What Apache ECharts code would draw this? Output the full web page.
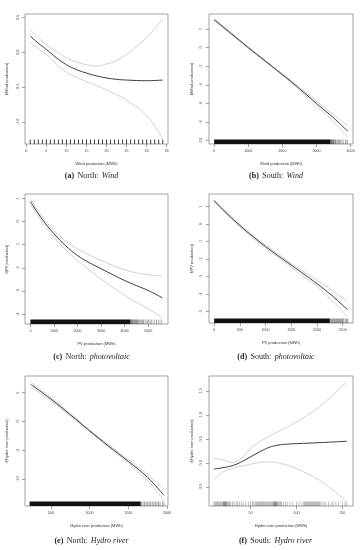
<!DOCTYPE html>
<html><head><meta charset="utf-8">
<script src="https://cdn.jsdelivr.net/npm/echarts@6/dist/echarts.min.js"></script>
<style>html,body{margin:0;padding:0;background:#fff}#c{width:360px;height:550px}</style>
</head><body><div id="c"></div>
<script>
// (a) North: Wind
var aX = [1, 3, 5, 7.5, 10, 12.5, 15, 17.5, 20, 22.5, 25, 30, 34];
var aFit = [0.23, 0.13, 0.04, -0.08, -0.18, -0.25, -0.30, -0.34, -0.37, -0.39, -0.40, -0.41, -0.40];
var aUpper = [0.32, 0.21, 0.11, 0.01, -0.08, -0.14, -0.18, -0.20, -0.17, -0.12, -0.03, 0.21, 0.48];
var aLower = [0.14, 0.05, -0.03, -0.17, -0.29, -0.36, -0.42, -0.48, -0.54, -0.61, -0.69, -0.91, -1.25];
var aRug = [1,2,3,4,5,6,7,8,9,10,11,12,13,14,15,16,17,18,19,20,21,22,23,24,25,26,27,28,29,30,31,32,33,34];
var aRugBands = [];
var aXTicks = [0, 5, 10, 15, 20, 25, 30, 35];
var aYTicks = [-1.0, -0.5, 0.0, 0.5];

// (b) South: Wind
var bX = [0, 500, 1000, 1500, 2000, 2500, 3000, 3500, 3920];
var bFit = [3.0, 1.5, 0.0, -1.45, -2.9, -4.4, -6.0, -7.55, -9.0];
var bUpper = [3.1, 1.6, 0.08, -1.38, -2.8, -4.25, -5.75, -7.2, -8.4];
var bLower = [2.9, 1.4, -0.08, -1.52, -3.0, -4.55, -6.25, -7.95, -9.6];
var bRug = [3420, 3440, 3460, 3480, 3500, 3530, 3560, 3600, 3640, 3680, 3720, 3780, 3850, 3900];
var bRugBands = [[0, 3410]];
var bXTicks = [0, 1000, 2000, 3000, 4000];
var bYTicks = [-10, -8, -6, -4, -2, 0, 2];

// (c) North: photovoltaic
var cX = [0, 500, 1000, 1500, 2000, 2500, 3000, 3500, 4000, 4500, 5000, 5600];
var cFit = [0.86, 0.10, -0.53, -1.05, -1.47, -1.78, -2.04, -2.30, -2.55, -2.77, -2.98, -3.30];
var cUpper = [0.96, 0.22, -0.39, -0.85, -1.18, -1.45, -1.68, -1.90, -2.09, -2.22, -2.30, -2.36];
var cLower = [0.74, -0.02, -0.68, -1.22, -1.68, -2.10, -2.48, -2.85, -3.20, -3.50, -3.77, -4.17];
var cRug = [4250, 4280, 4300, 4330, 4360, 4400, 4430, 4460, 4500, 4530, 4560, 4600, 4650, 4700, 4750, 4800, 4870, 4950, 5000, 5080, 5150, 5250, 5350, 5450, 5550];
var cRugBands = [[0, 4240]];
var cXTicks = [0, 1000, 2000, 3000, 4000, 5000];
var cYTicks = [-4, -3, -2, -1, 0, 1];

// (d) South: photovoltaic
var dX = [0, 250, 500, 750, 1000, 1250, 1500, 1750, 2000, 2300, 2600];
var dFit = [1.34, 0.60, -0.08, -0.70, -1.28, -1.82, -2.34, -2.86, -3.40, -4.10, -4.90];
var dUpper = [1.38, 0.66, -0.02, -0.62, -1.20, -1.72, -2.24, -2.72, -3.19, -3.80, -4.44];
var dLower = [1.30, 0.54, -0.14, -0.78, -1.36, -1.92, -2.44, -3.00, -3.55, -4.38, -5.30];
var dRug = [2260, 2280, 2300, 2320, 2340, 2360, 2380, 2400, 2420, 2440, 2460, 2480, 2500, 2520, 2550, 2580, 2600];
var dRugBands = [[0, 2250]];
var dXTicks = [0, 500, 1000, 1500, 2000, 2500];
var dYTicks = [-5, -4, -3, -2, -1, 0, 1];

// (e) North: Hydro river
var eX = [240, 500, 750, 1000, 1250, 1500, 1750, 1960];
var eFit = [6.46, 3.9, 1.2, -1.6, -4.3, -6.9, -9.7, -12.8];
var eUpper = [6.85, 4.2, 1.4, -1.45, -4.1, -6.6, -9.2, -11.7];
var eLower = [6.0, 3.6, 1.0, -1.75, -4.5, -7.2, -10.2, -13.7];
var eRug = [1670, 1690, 1710, 1730, 1750, 1770, 1790, 1810, 1830, 1850, 1870, 1890, 1910, 1940, 1960];
var eRugBands = [[225, 1660]];
var eXTicks = [500, 1000, 1500, 2000];
var eYTicks = [-10, -5, 0, 5];

// (f) South: Hydro river
var fX = [10, 20, 30, 40, 50, 60, 70, 80, 90, 100, 125, 155];
var fFit = [-0.13, -0.10, -0.06, 0.02, 0.125, 0.23, 0.32, 0.37, 0.39, 0.40, 0.42, 0.45];
var fUpper = [0.09, 0.06, 0.01, 0.09, 0.30, 0.44, 0.55, 0.65, 0.75, 0.85, 1.17, 1.69];
var fLower = [-0.35, -0.19, -0.12, -0.07, -0.03, 0.01, 0.02, 0.00, -0.05, -0.12, -0.36, -0.81];
var fRug = [10, 11, 12, 13, 14, 15, 16, 17, 18, 19, 20, 20.5, 21, 21.5, 22, 22.5, 23, 23.5, 24, 25, 26, 27, 28, 30, 31, 33, 35, 36, 38, 40, 42, 45, 48, 50, 52, 53, 55, 56, 57, 58, 59, 60, 61, 62, 63, 64, 65, 66, 67, 68, 69, 70, 71, 72, 73, 74, 75, 75.5, 76, 76.5, 77, 77.5, 78, 78.5, 79, 80, 81, 82, 83, 84, 86, 88, 90, 93, 96, 100, 103, 106, 108, 109, 110, 111, 112, 113, 114, 115, 116, 117, 118, 119, 120, 121, 122, 123, 124, 125, 126, 128, 130, 132, 135, 138, 140, 143, 146, 150, 153, 155];
var fRugBands = [];
var fXTicks = [50, 100, 150];
var fYTicks = [-0.5, 0.0, 0.5, 1.0, 1.5];

var panels = [
  {g:[25,14,143,130], xr:[-0.32,35.32], yr:[-1.32,0.55], xt:aXTicks, yt:aYTicks, dec:1, xn:'Wind production (MWh)', yn:'f(Wind production)', xs:aX, fit:aFit, up:aUpper, lo:aLower, rug:aRug, bands:aRugBands, rugColor:'rgba(0,0,0,0.85)', rugW:0.9, cap:['(a)','North:','Wind'], cx:91.5, cy:176},
  {g:[209,14,144,130], xr:[-150,4070], yr:[-10.35,3.6], xt:bXTicks, yt:bYTicks, dec:0, xn:'Wind production (MWh)', yn:'f(Wind production)', xs:bX, fit:bFit, up:bUpper, lo:bLower, rug:bRug, bands:bRugBands, rugColor:'rgba(0,0,0,0.5)', rugW:0.8, cap:['(b)','South:','Wind'], cx:276, cy:176},
  {g:[25,194,143,130], xr:[-230,5840], yr:[-4.43,1.19], xt:cXTicks, yt:cYTicks, dec:0, xn:'PV production (MWh)', yn:'f(PV production)', xs:cX, fit:cFit, up:cUpper, lo:cLower, rug:cRug, bands:cRugBands, rugColor:'rgba(0,0,0,0.45)', rugW:0.8, cap:['(c)','North:','photovoltaic'], cx:91.5, cy:357},
  {g:[209,194,144,129], xr:[-100,2702], yr:[-5.65,1.72], xt:dXTicks, yt:dYTicks, dec:0, xn:'PV production (MWh)', yn:'f(PV production)', xs:dX, fit:dFit, up:dUpper, lo:dLower, rug:dRug, bands:dRugBands, rugColor:'rgba(0,0,0,0.5)', rugW:0.8, cap:['(d)','South:','photovoltaic'], cx:276, cy:357},
  {g:[25,376,143,130], xr:[166,2013], yr:[-14.65,7.9], xt:eXTicks, yt:eYTicks, dec:0, xn:'Hydro river production (MWh)', yn:'f(Hydro river production)', xs:eX, fit:eFit, up:eUpper, lo:eLower, rug:eRug, bands:eRugBands, rugColor:'rgba(0,0,0,0.45)', rugW:0.8, cap:['(e)','North:','Hydro river'], cx:91.5, cy:541},
  {g:[209,376,144,130], xr:[4.7,161.7], yr:[-0.9,1.81], xt:fXTicks, yt:fYTicks, dec:1, xn:'Hydro river production (MWh)', yn:'f(Hydro river production)', xs:fX, fit:fFit, up:fUpper, lo:fLower, rug:fRug, bands:fRugBands, rugColor:'rgba(0,0,0,0.28)', rugW:0.9, cap:['(f)','South:','Hydro river'], cx:275.5, cy:541}
];

var SANS = 'Liberation Sans, Arial, sans-serif';
var SERIF = 'Liberation Serif, Times New Roman, serif';
var grids = [], xAxes = [], yAxes = [], series = [], graphics = [];

function pairs(xs, ys){ return xs.map(function(x,i){ return [x, ys[i]]; }); }

panels.forEach(function(p, i){
  grids.push({left:p.g[0], top:p.g[1], width:p.g[2], height:p.g[3], show:true, borderColor:'#8a8a8a', borderWidth:0.8, backgroundColor:'transparent', containLabel:false});
  xAxes.push({type:'value', gridIndex:i, min:p.xr[0], max:p.xr[1], position:'bottom',
    axisLine:{show:false, onZero:false}, splitLine:{show:false},
    axisTick:{show:true, customValues:p.xt, length:3, lineStyle:{color:'#777', width:0.7}},
    axisLabel:{customValues:p.xt, fontSize:3.7, color:'#444', fontFamily:SANS, margin:5,
      formatter:function(v){ return String(v); }},
    name:p.xn, nameLocation:'middle', nameGap:18, nameTextStyle:{fontSize:4, color:'#333', fontFamily:SANS}});
  yAxes.push({type:'value', gridIndex:i, min:p.yr[0], max:p.yr[1], position:'left',
    axisLine:{show:false, onZero:false}, splitLine:{show:false},
    axisTick:{show:true, customValues:p.yt, length:3, lineStyle:{color:'#777', width:0.7}},
    axisLabel:{customValues:p.yt, fontSize:3.7, color:'#444', fontFamily:SANS, rotate:90, margin:(i%2===0?5:6.5),
      formatter:(function(d){ return function(v){ return d ? v.toFixed(d) : String(Math.round(v)); }; })(p.dec)},
    name:p.yn, nameLocation:'middle', nameGap:(i%2===0?16:15.5), nameRotate:90, nameTextStyle:{fontSize:4, color:'#333', fontFamily:SANS}});

  var ymin = p.yr[0];
  if (p.bands.length){
    series.push({type:'custom', xAxisIndex:i, yAxisIndex:i, silent:true, z:3,
      data:p.bands.map(function(b){ return [b[0], b[1], ymin]; }),
      renderItem:function(params, api){
        var a = api.coord([api.value(0), api.value(2)]);
        var b = api.coord([api.value(1), api.value(2)]);
        return {type:'rect', shape:{x:a[0], y:a[1]-4.5, width:b[0]-a[0], height:4.5}, style:{fill:'#111'}};
      }});
  }
  series.push({type:'custom', xAxisIndex:i, yAxisIndex:i, silent:true, z:3,
    data:p.rug.map(function(v){ return [v, ymin]; }),
    renderItem:(function(col, w){ return function(params, api){
      var a = api.coord([api.value(0), api.value(1)]);
      return {type:'line', shape:{x1:a[0], y1:a[1], x2:a[0], y2:a[1]-4.5}, style:{stroke:col, lineWidth:w}};
    }; })(p.rugColor, p.rugW)});

  [['up','#c4c4c4',0.8],['lo','#c4c4c4',0.8],['fit','#3a3a3a',1]].forEach(function(s){
    series.push({type:'line', xAxisIndex:i, yAxisIndex:i, data:pairs(p.xs, p[s[0]]), smooth:0.4,
      showSymbol:false, silent:true, z:(s[0]==='fit'?5:4), lineStyle:{color:s[1], width:s[2]}});
  });

  graphics.push({type:'text', x:p.cx, y:p.cy, style:{
    text:'{b|'+p.cap[0]+'} {n|'+p.cap[1]+'} {i|'+p.cap[2]+'}',
    align:'center', verticalAlign:'middle', fill:'#222',
    rich:{
      b:{fontFamily:SERIF, fontSize:8, fontWeight:'bold', fill:'#222'},
      n:{fontFamily:SERIF, fontSize:8, fill:'#222'},
      i:{fontFamily:SERIF, fontSize:8, fontStyle:'italic', fill:'#222'}
    }}});
});

var chart = echarts.init(document.getElementById('c'), null, {renderer:'canvas'});
chart.setOption({animation:false, backgroundColor:'#fff', grid:grids, xAxis:xAxes, yAxis:yAxes, series:series, graphic:graphics});
</script></body></html>
